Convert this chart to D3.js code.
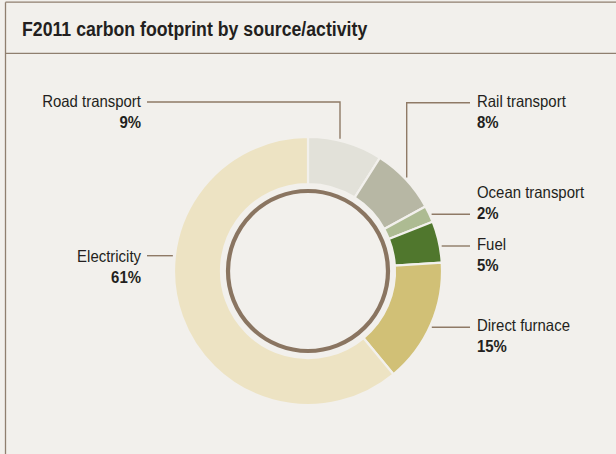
<!DOCTYPE html>
<html>
<head>
<meta charset="utf-8">
<script src="https://cdn.jsdelivr.net/npm/d3@7"></script>
<style>
  html, body { margin: 0; padding: 0; background: #f2f0ec; }
  svg { display: block; }
  text { font-family: "Liberation Sans", Arial, sans-serif; fill: #231f20; }
</style>
</head>
<body>
<svg id="chart" width="616" height="454"></svg>
<script>
// ---- data ----
const title = "F2011 carbon footprint by source/activity";
const categories = ["Road transport", "Rail transport", "Ocean transport", "Fuel", "Direct furnace", "Electricity"];
const values = [9, 8, 2, 5, 15, 61];
const valueLabels = ["9%", "8%", "2%", "5%", "15%", "61%"];
const colors = ["#e2e1d9", "#b7b7a4", "#adbb92", "#50772d", "#d1c076", "#ede3c3"];

// ---- layout (positions for annotations, not data) ----
const W = 616, H = 454;
const cx = 308, cy = 271, rOuter = 134, rInner = 87, ringR = 80, leaderR = 136;
const labelLayout = [
  { side: "left",  tx: 141, ty: 107, lineY: 102,   elbowX: 340 },
  { side: "right", tx: 477, ty: 107, lineY: 102.7, elbowX: 406.7 },
  { side: "right", tx: 477, ty: 198, lineY: 214.3 },
  { side: "right", tx: 477, ty: 250, lineY: 246 },
  { side: "right", tx: 477, ty: 331, lineY: 327.3 },
  { side: "left",  tx: 141, ty: 262, lineY: 255.7 }
];
const titleSqueeze = 0.885;
const labelSqueeze = 0.905;

const svg = d3.select("#chart");

// background
svg.append("rect").attr("width", W).attr("height", H).attr("fill", "#f2f0ec");

// frame
const frameColor = "#8f7f6f";
svg.append("line").attr("x1", 5.5).attr("x2", W).attr("y1", 2.2).attr("y2", 2.2)
  .attr("stroke", frameColor).attr("stroke-width", 1.3);
svg.append("line").attr("x1", 5.5).attr("x2", 5.5).attr("y1", 2.2).attr("y2", H)
  .attr("stroke", frameColor).attr("stroke-width", 1.3);
svg.append("line").attr("x1", 5.5).attr("x2", W).attr("y1", 53.3).attr("y2", 53.3)
  .attr("stroke", frameColor).attr("stroke-width", 1.3);

function squeezeText(sel, k) {
  sel.each(function () {
    const len = this.getComputedTextLength();
    d3.select(this).attr("textLength", len * k).attr("lengthAdjust", "spacingAndGlyphs");
  });
}

// title
svg.append("text").attr("x", 22).attr("y", 36)
  .attr("font-size", 20).attr("font-weight", "bold")
  .text(title).call(squeezeText, titleSqueeze);

// donut
const data = categories.map((c, i) => ({ name: c, value: values[i], label: valueLabels[i], color: colors[i], i }));
const pie = d3.pie().value(d => d.value).sort(null);
const arcs = pie(data);
const arc = d3.arc().innerRadius(rInner).outerRadius(rOuter);

const g = svg.append("g").attr("transform", `translate(${cx},${cy})`);
g.selectAll("path.slice").data(arcs).join("path")
  .attr("class", "slice")
  .attr("d", arc)
  .attr("fill", d => d.data.color)
  .attr("stroke", "#f2f0ec")
  .attr("stroke-width", 2.2)
  .attr("stroke-linejoin", "round");

g.append("circle").attr("r", ringR).attr("fill", "#f2f0ec")
  .attr("stroke", "#8a7561").attr("stroke-width", 4.2);

// leaders and labels
const leaderColor = "#8f7a66";
arcs.forEach((a, i) => {
  const L = labelLayout[i];
  const startX = L.side === "left" ? L.tx + 6 : L.tx - 7;
  let pts;
  if (L.elbowX !== undefined) {
    const dx = L.elbowX - cx;
    const yEnd = cy - Math.sqrt(leaderR * leaderR - dx * dx);
    pts = [[startX, L.lineY], [L.elbowX, L.lineY], [L.elbowX, yEnd]];
  } else {
    const dy = L.lineY - cy;
    const xEnd = cx + (L.side === "left" ? -1 : 1) * Math.sqrt(leaderR * leaderR - dy * dy);
    pts = [[startX, L.lineY], [xEnd, L.lineY]];
  }
  svg.append("path")
    .attr("d", d3.line()(pts))
    .attr("fill", "none").attr("stroke", leaderColor).attr("stroke-width", 1.4);

  const anchor = L.side === "left" ? "end" : "start";
  svg.append("text").attr("x", L.tx).attr("y", L.ty)
    .attr("font-size", 16.5).attr("text-anchor", anchor)
    .text(a.data.name).call(squeezeText, labelSqueeze);
  svg.append("text").attr("x", L.tx).attr("y", L.ty + 21)
    .attr("font-size", 16.5).attr("font-weight", "bold").attr("text-anchor", anchor)
    .text(a.data.label).call(squeezeText, labelSqueeze);
});
</script>
</body>
</html>
